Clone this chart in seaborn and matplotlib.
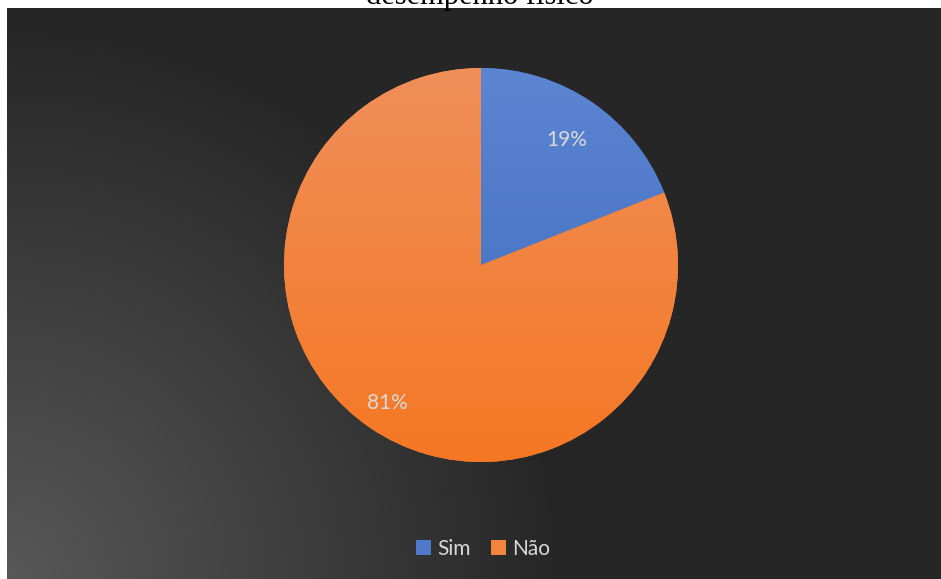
import numpy as np
import matplotlib
matplotlib.use("Agg")
import matplotlib.pyplot as plt
import seaborn as sns
from matplotlib.colors import LinearSegmentedColormap

sns.set_theme(style="white")
plt.rcParams['font.family'] = ['Lato', 'DejaVu Sans']

# data
categories = ["Sim", "Não"]
values = [19, 81]
title_text = "desempenho físico"

W, H = 941, 579
fig = plt.figure(figsize=(W / 100, H / 100), dpi=100)
fig.patch.set_facecolor("white")

# dark background panel with radial gradient from bottom-left
bg = fig.add_axes([7 / W, 0, (W - 7) / W, (H - 8) / H])
bg.set_axis_off()
bw, bh = W - 7, H - 8
yy, xx = np.mgrid[0:bh, 0:bw]
d = np.sqrt(xx ** 2 + (bh - yy) ** 2)
g = np.clip(88 - 0.09 * d, 38, 88) / 255.0
img = np.dstack([g, g, g])
bg.imshow(img, aspect="auto", extent=[0, 1, 0, 1], origin="upper")
bg.set_xlim(0, 1)
bg.set_ylim(0, 1)

# title (partly cut off at top)
fig.text(480 / W, 1 - 4 / H, title_text, ha="center", va="baseline",
         fontsize=22, family=["Liberation Serif"], color="black", zorder=10)

# pie
cx, cy, r = 481, 265, 197
ax = fig.add_axes([(cx - r) / W, (H - cy - r) / H, 2 * r / W, 2 * r / H])
ax.set_axis_off()
base_colors = ["#4f7acb", "#f2843f"]
wedges, texts, autotexts = ax.pie(values, colors=base_colors, startangle=90,
                                  counterclock=False, autopct="%1.0f%%",
                                  pctdistance=0.8, radius=1,
                                  wedgeprops=dict(linewidth=0),
                                  textprops=dict(color="#d9d9d9", fontsize=15))
ax.set_xlim(-1, 1)
ax.set_ylim(-1, 1)

grads = [((0.36, 0.52, 0.82), (0.24, 0.42, 0.75)),
         ((0.94, 0.56, 0.35), (0.96, 0.47, 0.14))]
for w, (top, bot) in zip(wedges, grads):
    cmap = LinearSegmentedColormap.from_list("g", [bot, top])
    grad = np.linspace(0, 1, 256).reshape(-1, 1)
    im = ax.imshow(grad, cmap=cmap, extent=[-1, 1, -1, 1], origin="lower",
                   aspect="auto", zorder=1)
    im.set_clip_path(w)
for t in autotexts:
    t.set_zorder(5)

# label distances
label_r = [0.77, 0.85]
for w, t, rr in zip(wedges, autotexts, label_r):
    th = np.deg2rad((w.theta1 + w.theta2) / 2)
    t.set_position((rr * np.cos(th), rr * np.sin(th)))
ax.set_xlim(-1, 1)
ax.set_ylim(-1, 1)

leg = fig.legend(wedges, categories, loc="center", bbox_to_anchor=(483 / W, 1 - 549 / H),
                 ncol=2, frameon=False, fontsize=15, handlelength=0.7,
                 handleheight=0.7, handletextpad=0.3, columnspacing=1.0)
for t in leg.get_texts():
    t.set_color("#d9d9d9")

fig.savefig("out.png", dpi=100, facecolor="white")
